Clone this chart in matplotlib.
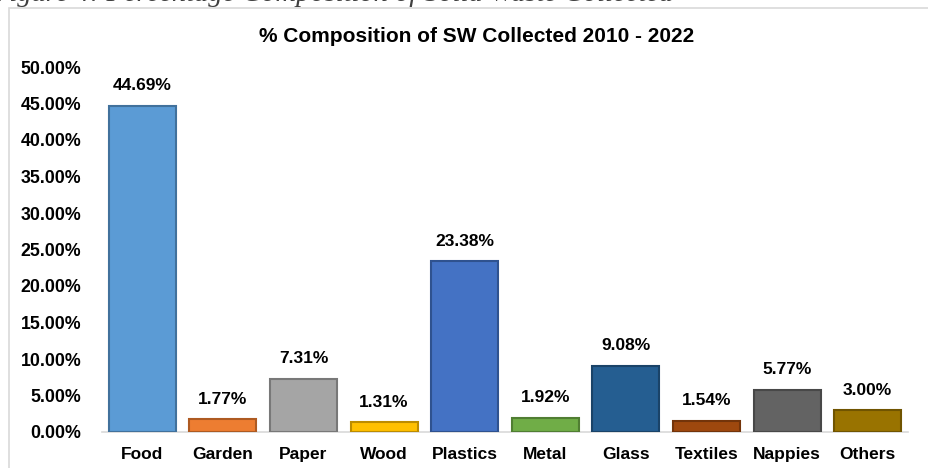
import numpy as np
import matplotlib.pyplot as plt
from matplotlib.patches import Rectangle

# Data
categories = ["Food", "Garden", "Paper", "Wood", "Plastics", "Metal",
              "Glass", "Textiles", "Nappies", "Others"]
values = [44.69, 1.77, 7.31, 1.31, 23.38, 1.92, 9.08, 1.54, 5.77, 3.00]
colors = ["#5B9BD5", "#ED7D31", "#A5A5A5", "#FFC000", "#4472C4",
          "#70AD47", "#255E91", "#9E480E", "#636363", "#997300"]
edges = ["#41719C", "#AE5A21", "#787878", "#BC8C00", "#2F528F",
         "#507E32", "#1A4368", "#73340A", "#484848", "#705400"]
yticks = [0, 5, 10, 15, 20, 25, 30, 35, 40, 45, 50]

plt.rcParams['font.family'] = ['Liberation Sans', 'DejaVu Sans']

W, H = 929, 468
fig = plt.figure(figsize=(W / 100, H / 100), dpi=100)
ax = fig.add_axes([102 / W, 1 - 432 / H, 806 / W, (432 - 67) / H])

x = np.arange(len(categories))
ax.bar(x, values, width=0.83, color=colors, edgecolor=edges, linewidth=1.5, zorder=3)
for xi, v in zip(x, values):
    ax.annotate(f"{v:.2f}%", (xi, v), xytext=(0, 9), textcoords="offset points",
                ha="center", va="bottom", fontsize=12.5, fontweight="bold")

ax.set_xlim(-0.5, len(categories) - 0.5)
ax.set_ylim(0, 50)
ax.set_yticks(yticks)
ax.set_yticklabels([f"{t:.2f}%" for t in yticks], fontsize=12.8, fontweight="bold")
ax.set_xticks(x)
ax.set_xticklabels(categories, fontsize=12.5, fontweight="bold")
ax.tick_params(axis="both", length=0)
ax.tick_params(axis="y", pad=15)
ax.tick_params(axis="x", pad=11)
for s in ["top", "right", "left"]:
    ax.spines[s].set_visible(False)
ax.spines["bottom"].set_color("#D9D9D9")
ax.spines["bottom"].set_linewidth(1.2)

fig.text(477 / W, 1 - 37 / H, "% Composition of SW Collected 2010 - 2022",
         ha="center", va="center", fontsize=15, fontweight="bold")

# outer chart frame
fig.add_artist(Rectangle((9 / W, -0.1), 1.2, 1 - 8 / H + 0.1, transform=fig.transFigure,
                         fill=False, edgecolor="#D9D9D9", linewidth=1.2))

# caption of the document, cut at the top edge as in the page scan
fig.text(-8 / W, 1 - 1 / H, "Figure 4: Percentage Composition of Solid Waste Collected",
         ha="left", va="baseline", fontsize=20.5, style="italic",
         family=["Liberation Serif", "DejaVu Serif"], color="#404040")

fig.savefig("out.png", dpi=100)
